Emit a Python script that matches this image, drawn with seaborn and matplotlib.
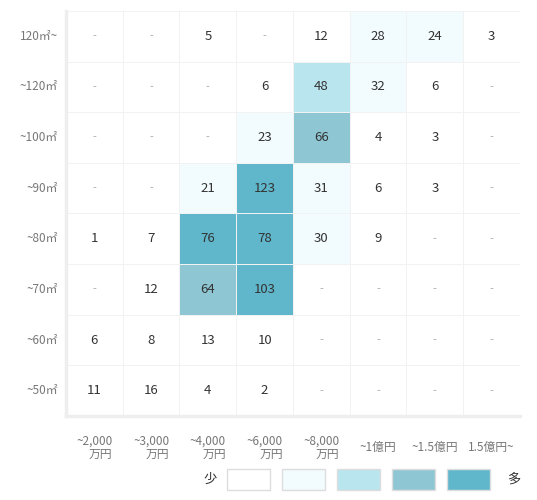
import matplotlib
matplotlib.use('Agg')
import matplotlib.pyplot as plt
import numpy as np
import pandas as pd
import seaborn as sns
from matplotlib.colors import ListedColormap, BoundaryNorm
from matplotlib.patches import Rectangle

# rows top -> bottom, columns left -> right; None means no listing ("-")
row_labels = ['120㎡~', '~120㎡', '~100㎡', '~90㎡', '~80㎡', '~70㎡', '~60㎡', '~50㎡']
col_labels = ['~2,000\n万円', '~3,000\n万円', '~4,000\n万円', '~6,000\n万円',
              '~8,000\n万円', '~1億円', '~1.5億円', '1.5億円~']

counts = [
    [None, None, 5, None, 12, 28, 24, 3],
    [None, None, None, 6, 48, 32, 6, None],
    [None, None, None, 23, 66, 4, 3, None],
    [None, None, 21, 123, 31, 6, 3, None],
    [1, 7, 76, 78, 30, 9, None, None],
    [None, 12, 64, 103, None, None, None, None],
    [6, 8, 13, 10, None, None, None, None],
    [11, 16, 4, 2, None, None, None, None],
]

# colour bins (few -> many)
bin_edges = [0, 20, 40, 60, 70, 1000]
bin_colors = ['#ffffff', '#f2fbfd', '#b9e5ef', '#8ec6d3', '#60b7cb']

sns.set_theme(style='white')
plt.rcParams['font.family'] = ['Noto Sans CJK JP', 'DejaVu Sans']

df = pd.DataFrame(counts, index=row_labels, columns=col_labels, dtype=float)
annot = df.map(lambda v: '-' if pd.isna(v) else str(int(v))).values

cmap = ListedColormap(bin_colors)
norm = BoundaryNorm(bin_edges, cmap.N)

fig = plt.figure(figsize=(5.37, 5.0), dpi=100)
ax = fig.add_axes([0.1229, 0.168, 0.8454, 0.81])

sns.heatmap(df.fillna(0), ax=ax, cmap=cmap, norm=norm, cbar=False,
            annot=annot, fmt='', linewidths=0.7, linecolor='#f2f2f2',
            annot_kws={'fontsize': 9.5, 'color': '#333333'})

# dashes for empty cells are lighter
for t in ax.texts:
    if t.get_text() == '-':
        t.set_color('#aaaaaa')
        t.set_fontsize(8)

ax.tick_params(axis='both', length=0)
ax.set_yticklabels(row_labels, rotation=0, fontsize=8.5, color='#777777')
ax.set_xticklabels(col_labels, rotation=0, fontsize=8.5, color='#777777',
                   multialignment='right', va='center', linespacing=1.0)
ax.tick_params(axis='x', pad=23)
ax.tick_params(axis='y', pad=6)
ax.set_xlabel('')
ax.set_ylabel('')

for side in ['left', 'bottom']:
    ax.spines[side].set_visible(True)
    ax.spines[side].set_color('#eeeeee')
    ax.spines[side].set_linewidth(2.5)

# legend: boxes from the bin colours
box_w, box_h = 43 / 537, 21 / 500
x0, step = 227 / 537, 55 / 537
y0 = (500 - 490) / 500
for i, c in enumerate(bin_colors):
    fig.patches.append(Rectangle((x0 + i * step, y0), box_w, box_h,
                                 transform=fig.transFigure, facecolor=c,
                                 edgecolor='#dddddd', linewidth=1))
fig.text(x0 - 10 / 537, y0 + box_h / 2, '少', ha='right', va='center',
         fontsize=9.5, color='#333333')
fig.text(x0 + 4 * step + box_w + 17 / 537, y0 + box_h / 2, '多', ha='left',
         va='center', fontsize=9.5, color='#333333')

fig.savefig('out.png', dpi=100, facecolor='white')
